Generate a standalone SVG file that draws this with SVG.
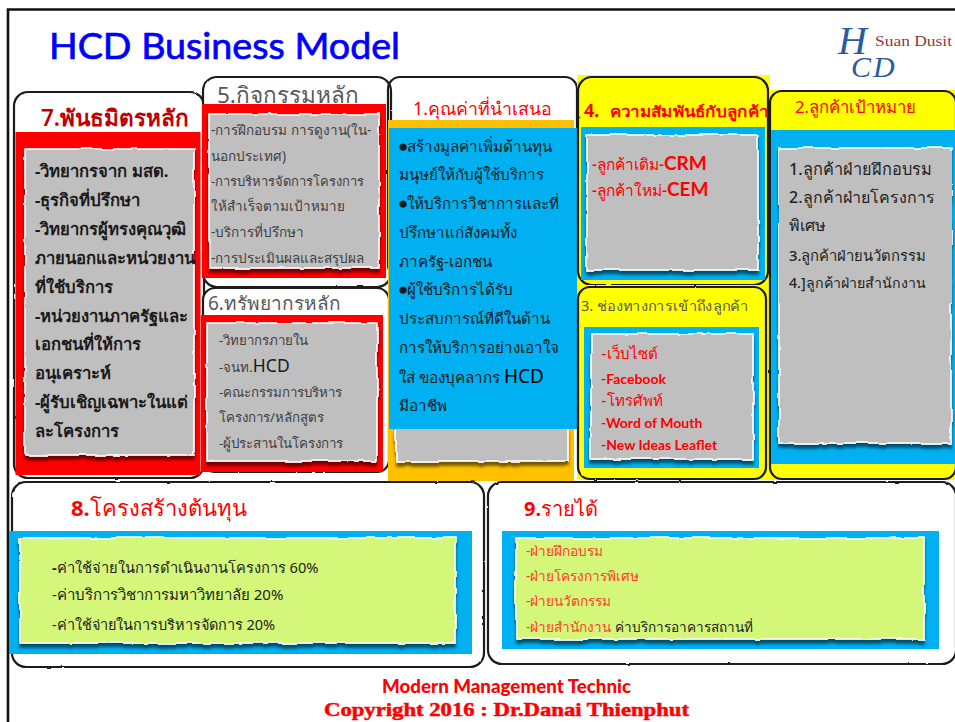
<svg xmlns="http://www.w3.org/2000/svg" width="955" height="722" viewBox="0 0 955 722">
<style>
text{font-family:"Noto Sans","Liberation Sans","DejaVu Sans",sans-serif}
.box{fill:#fff;stroke:#1a1a1a;stroke-width:2.2;filter:url(#rough)}
.boxn{fill:none;stroke:#1a1a1a;stroke-width:2.2;filter:url(#rough)}
.paper{fill:#bfbfbf;stroke:#fff;stroke-width:1.6;filter:url(#torn)}
.green{fill:#d4f779;stroke:#fff;stroke-width:1.6;filter:url(#torn)}
.g{fill:#404040;font-size:13.3px}
.b7{fill:#1a1a1a;font-size:16.7px;font-weight:700}
.b1{fill:#1a1a1a;font-size:15.2px}
.bu{font-size:17px}
.b2{fill:#222;font-weight:500}
.r3{fill:#ff0000;font-size:14px;font-weight:700;font-family:Lato,"Noto Sans",sans-serif}
.k8{fill:#222}
.r9{fill:#ff3b2f;font-size:13.6px}
</style>
<defs>
<filter id="rough" x="-5%" y="-5%" width="110%" height="110%">
<feTurbulence type="fractalNoise" baseFrequency="0.09" numOctaves="2" seed="3"/>
<feDisplacementMap in="SourceGraphic" scale="1.8" xChannelSelector="R" yChannelSelector="G"/>
</filter>
<filter id="torn" x="-8%" y="-8%" width="116%" height="116%">
<feTurbulence type="fractalNoise" baseFrequency="0.04" numOctaves="3" seed="7" result="n"/>
<feDisplacementMap in="SourceGraphic" in2="n" scale="4" xChannelSelector="R" yChannelSelector="G" result="d"/>
<feOffset in="d" dx="0" dy="4" result="o"/>
<feGaussianBlur in="o" stdDeviation="1.800" result="bl"/>
<feColorMatrix in="bl" type="matrix" values="0 0 0 0 0 0 0 0 0 0 0 0 0 0 0 0 0 0 .55 0" result="s"/>
<feMerge><feMergeNode in="s"/><feMergeNode in="d"/></feMerge>
</filter>
</defs>
<rect width="955" height="722" fill="#fff"/>
<g id="frame"><path d="M8 722V9.5H955" fill="none" stroke="#111" stroke-width="2.6"/></g>
<g id="title"><text x="49" y="59" font-size="37" fill="#0000ff" stroke="#0000ff" stroke-width=".7" textLength="351" lengthAdjust="spacingAndGlyphs" style="font-family:Lato,'Open Sans',sans-serif">HCD Business Model</text></g>
<g id="logo">
<text x="838" y="54" font-size="40" fill="#2a5aa0" font-style="italic" style="font-family:'Liberation Serif',serif">H</text>
<text x="851" y="77" font-size="30" fill="#2a5aa0" font-style="italic" style="font-family:'Liberation Serif',serif">C</text>
<text x="873" y="77" font-size="30" fill="#2a5aa0" font-style="italic" style="font-family:'Liberation Serif',serif">D</text>
<text x="875" y="46" font-size="14" fill="#8c3a3a" textLength="77" lengthAdjust="spacingAndGlyphs" style="font-family:'Liberation Serif',serif">Suan Dusit</text>
</g>
<g id="node-7">
<rect class="box" x="14" y="92" width="190" height="386" rx="14"/>
<rect x="15.500" y="132" width="185" height="343" fill="#ff0000"/>
<rect class="paper" x="25" y="149" width="169" height="306"/>
<text x="41" y="126" font-size="22.500" fill="#c00000" font-weight="600">7.พันธมิตรหลัก</text>
<text class="b7" x="35" y="177">-วิทยากรจาก มสด.</text>
<text class="b7" x="35" y="206">-ธุรกิจที่ปรึกษา</text>
<text class="b7" x="35" y="235">-วิทยากรผู้ทรงคุณวุฒิ</text>
<text class="b7" x="35" y="264">ภายนอกและหน่วยงาน</text>
<text class="b7" x="35" y="293">ที่ใช้บริการ</text>
<text class="b7" x="35" y="322">-หน่วยงานภาครัฐและ</text>
<text class="b7" x="35" y="350">เอกชนที่ให้การ</text>
<text class="b7" x="35" y="379">อนุเคราะห์</text>
<text class="b7" x="35" y="408">-ผู้รับเชิญเฉพาะในแต่</text>
<text class="b7" x="35" y="437">ละโครงการ</text>
</g>
<g id="node-5">
<rect class="box" x="203" y="77" width="188" height="210" rx="14"/>
<text x="217" y="103" font-size="22.500" fill="#595959">5.กิจกรรมหลัก</text>
<rect x="202" y="104" width="184" height="174" fill="#ff0000"/>
<rect class="paper" x="209" y="114" width="170" height="154"/>
<text class="g" x="211" y="135" style="font-size:13.500px">-การฝึกอบรม การดูงาน(ใน-</text>
<text class="g" x="211" y="161" style="font-size:13.500px">นอกประเทศ)</text>
<text class="g" x="211" y="186" style="font-size:13px">-การบริหารจัดการโครงการ</text>
<text class="g" x="211" y="211" style="font-size:13.500px">ให้สำเร็จตามเป้าหมาย</text>
<text class="g" x="211" y="237" style="font-size:13.500px">-บริการที่ปรึกษา</text>
<text class="g" x="211" y="263" style="font-size:13.500px">-การประเมินผลและสรุปผล</text>
</g>
<g id="node-6">
<rect class="box" x="203" y="288" width="186" height="184" rx="12"/>
<text x="208" y="310" font-size="19" fill="#595959">6.ทรัพยากรหลัก</text>
<rect x="201" y="315" width="182" height="157" fill="#ff0000"/>
<rect class="paper" x="207" y="323" width="170" height="138"/>
<text class="g" x="219" y="345">-วิทยากรภายใน</text>
<text class="g" x="219" y="372">-จนท.<tspan font-size="17.500" fill="#1a1a1a">HCD</tspan></text>
<text class="g" x="219" y="397">-คณะกรรมการบริหาร</text>
<text class="g" x="219" y="422">โครงการ/หลักสูตร</text>
<text class="g" x="219" y="448">-ผู้ประสานในโครงการ</text>
</g>
<g id="node-1">
<rect class="boxn" x="388" y="77" width="189" height="200" rx="12"/>
<text x="413" y="115" font-size="17.800" fill="#ff0000">1.คุณค่าที่นำเสนอ</text>
<rect x="388" y="120" width="186" height="361" fill="#ffc000"/>
<rect class="paper" x="396" y="135" width="172" height="326"/>
<rect x="389" y="128" width="188" height="301" fill="#00b0f0"/>
<text class="b1" x="398" y="152"><tspan class="bu">●</tspan><tspan x="407">สร้างมูลค่าเพิ่มด้านทุน</tspan></text>
<text class="b1" x="399" y="180">มนุษย์ให้กับผู้ใช้บริการ</text>
<text class="b1" x="398" y="209"><tspan class="bu">●</tspan><tspan x="407">ให้บริการวิชาการและที่</tspan></text>
<text class="b1" x="399" y="238">ปรึกษาแก่สังคมทั้ง</text>
<text class="b1" x="399" y="267">ภาครัฐ-เอกชน</text>
<text class="b1" x="398" y="295"><tspan class="bu">●</tspan><tspan x="407">ผู้ใช้บริการได้รับ</tspan></text>
<text class="b1" x="399" y="324">ประสบการณ์ที่ดีในด้าน</text>
<text class="b1" x="399" y="353">การให้บริการอย่างเอาใจ</text>
<text class="b1" x="399" y="383">ใส่ ของบุคลากร <tspan font-size="19" fill="#000">HCD</tspan></text>
<text class="b1" x="399" y="411">มีอาชีพ</text>
</g>
<g id="node-4">
<rect x="577" y="75" width="193" height="210" fill="#ffff00"/>
<rect class="boxn" x="578" y="77" width="190" height="208" rx="14"/>
<text x="584" y="117" font-size="18" font-weight="700" fill="#ff0000">4.</text>
<text x="610" y="117" font-size="15" font-weight="700" fill="#ff0000" textLength="158" lengthAdjust="spacingAndGlyphs">ความสัมพันธ์กับลูกค้า</text>
<rect x="581" y="127" width="184" height="153" fill="#00b0f0"/>
<rect class="paper" x="587" y="135" width="171" height="135"/>
<text x="592" y="170" font-size="15.500" font-weight="500" fill="#ff0000">-ลูกค้าเดิม-<tspan font-size="19" font-weight="700" style="font-family:Lato,sans-serif">CRM</tspan></text>
<text x="592" y="196" font-size="15.500" font-weight="500" fill="#ff0000">-ลูกค้าใหม่-<tspan font-size="19" font-weight="700" style="font-family:Lato,sans-serif">CEM</tspan></text>
</g>
<g id="node-3">
<rect x="577" y="285" width="193" height="195" fill="#ffff00"/>
<rect class="boxn" x="578" y="287" width="188" height="192" rx="12"/>
<text x="581" y="311" font-size="14" fill="#595959" textLength="167" lengthAdjust="spacingAndGlyphs">3. ช่องทางการเข้าถึงลูกค้า</text>
<rect x="584" y="327" width="175" height="141" fill="#00b0f0"/>
<rect class="paper" x="591" y="334" width="162" height="125"/>
<text class="r3" x="601" y="359" style="font-weight:500;font-size:15px">-เว็บไซต์</text>
<text class="r3" x="601" y="384">-Facebook</text>
<text class="r3" x="601" y="406" style="font-weight:500;font-size:15px">-โทรศัพท์</text>
<text class="r3" x="601" y="428">-Word of Mouth</text>
<text class="r3" x="601" y="450">-New Ideas Leaflet</text>
</g>
<g id="node-2">
<rect x="770" y="90" width="185" height="390" fill="#ffff00"/>
<rect class="boxn" x="770" y="91" width="186" height="388" rx="12"/>
<text x="795" y="113" font-size="16.800" fill="#ff0000">2.ลูกค้าเป้าหมาย</text>
<rect x="771" y="130" width="184" height="334" fill="#00b0f0"/>
<rect class="paper" x="779" y="148" width="172" height="295"/>
<rect x="779" y="151" width="173" height="152" fill="#bfbfbf"/>
<text class="b2" x="789" y="175" font-size="16.300">1.ลูกค้าฝ่ายฝึกอบรม</text>
<text class="b2" x="789" y="203" font-size="16">2.ลูกค้าฝ่ายโครงการ</text>
<text class="b2" x="789" y="231" font-size="16">พิเศษ</text>
<text class="b2" x="789" y="261" font-size="14.800">3.ลูกค้าฝ่ายนวัตกรรม</text>
<text class="b2" x="789" y="288" font-size="14.200">4.]ลูกค้าฝ่ายสำนักงาน</text>
</g>
<g id="node-8">
<rect class="box" x="12" y="482" width="472" height="185" rx="14"/>
<text x="71" y="516" font-size="22" font-weight="700" fill="#ff0000">8.<tspan font-weight="500">โครงสร้างต้นทุน</tspan></text>
<rect x="9" y="531" width="463" height="123" fill="#00b0f0"/>
<rect class="green" x="20" y="538" width="435" height="105"/>
<text class="k8" x="52" y="573" font-size="14.700"><tspan font-weight="700">-</tspan>ค่าใช้จ่ายในการดำเนินงานโครงการ 60%</text>
<text class="k8" x="52" y="600" font-size="15">-ค่าบริการวิชาการมหาวิทยาลัย 20%</text>
<text class="k8" x="52" y="630" font-size="14.500">-ค่าใช้จ่ายในการบริหารจัดการ 20%</text>
</g>
<g id="node-9">
<rect class="box" x="488" y="482" width="468" height="182" rx="14"/>
<text x="524" y="516" font-size="20" font-weight="700" fill="#ff0000">9.<tspan font-weight="500">รายได้</tspan></text>
<rect x="502" y="531" width="437" height="118" fill="#00b0f0"/>
<rect class="green" x="516" y="538" width="408" height="101"/>
<text class="r9" x="526" y="556">-ฝ่ายฝึกอบรม</text>
<text class="r9" x="526" y="581">-ฝ่ายโครงการพิเศษ</text>
<text class="r9" x="526" y="606">-ฝ่ายนวัตกรรม</text>
<text class="r9" x="526" y="632">-ฝ่ายสำนักงาน <tspan fill="#222">ค่าบริการอาคารสถานที่</tspan></text>
</g>
<g id="footer">
<text x="382" y="693" font-size="19" font-weight="900" fill="#ff0000" textLength="249" lengthAdjust="spacingAndGlyphs" style="font-family:Lato,sans-serif">Modern Management Technic</text>
<text x="324" y="716" font-size="19" font-weight="700" fill="#ff0000" stroke="#ff0000" stroke-width=".5" textLength="365" lengthAdjust="spacingAndGlyphs" style="font-family:'Liberation Serif',serif">Copyright  2016 : Dr.Danai  Thienphut</text>
</g>
</svg>
